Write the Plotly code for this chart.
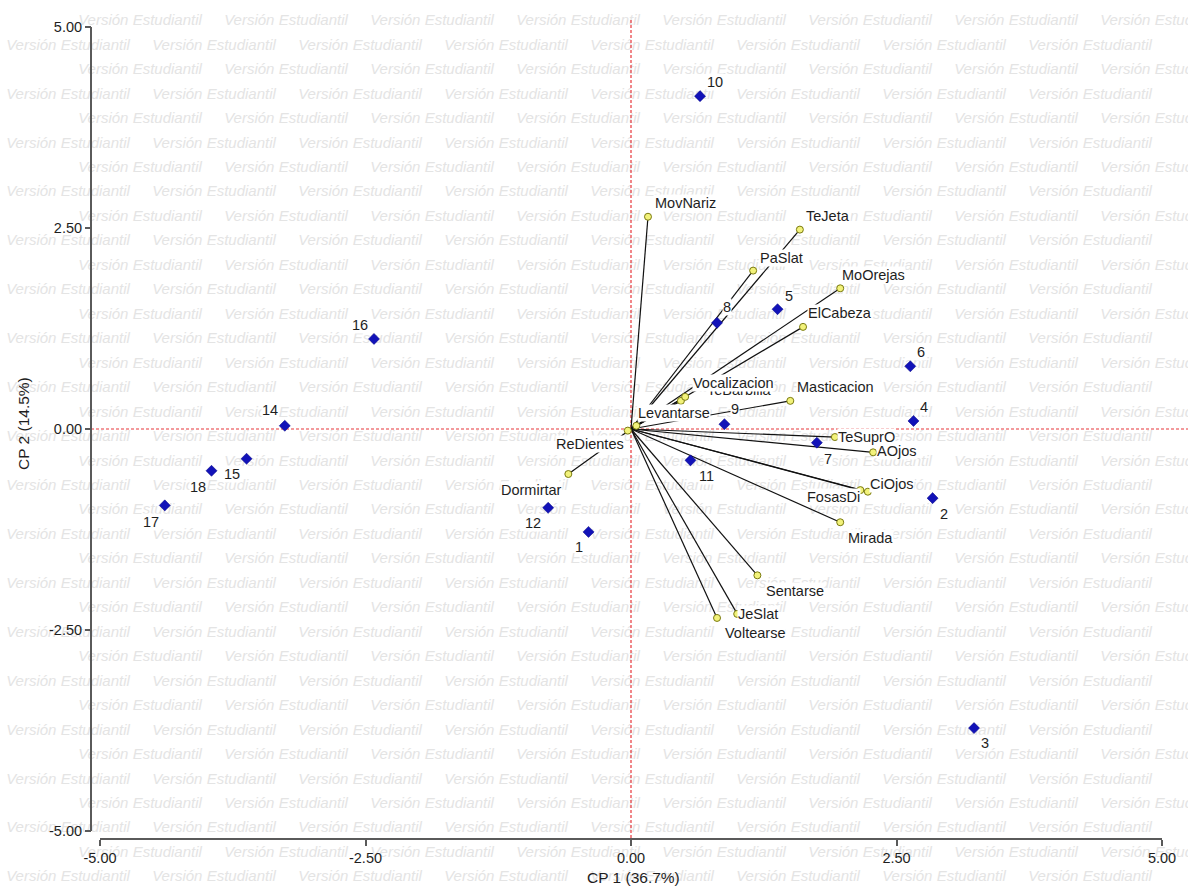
import plotly.graph_objects as go

# ---------------- data ----------------
obs_ids = ["1", "2", "3", "4", "5", "6", "7", "8", "9", "10", "11", "12",
           "14", "15", "16", "17", "18"]
obs_cp1 = [-0.40, 2.84, 3.23, 2.66, 1.38, 2.63, 1.75, 0.81, 0.88, 0.65, 0.56,
           -0.78, -3.26, -3.62, -2.42, -4.39, -3.95]
obs_cp2 = [-1.28, -0.86, -3.72, 0.10, 1.49, 0.78, -0.17, 1.32, 0.06, 4.14,
           -0.39, -0.98, 0.04, -0.37, 1.12, -0.95, -0.52]

var_names = ["MovNariz", "TeJeta", "PaSlat", "MoOrejas", "ElCabeza",
             "TeBarbilla", "Vocalizacion", "Masticacion", "Levantarse",
             "TeSuprO", "AOjos", "CiOjos", "FosasDi", "Mirada", "Sentarse",
             "JeSlat", "Voltearse", "ReDientes", "Dormirtar"]
var_cp1 = [0.16, 1.59, 1.15, 1.97, 1.62, 0.47, 0.51, 1.50, 0.05, 1.92, 2.28,
           2.23, 2.16, 1.97, 1.19, 1.00, 0.81, -0.59, -0.03]
var_cp2 = [2.64, 2.48, 1.97, 1.75, 1.27, 0.35, 0.40, 0.35, 0.04, -0.10, -0.29,
           -0.78, -0.76, -1.16, -1.82, -2.30, -2.35, -0.56, -0.02]

tick_vals = [-5.0, -2.5, 0.0, 2.5, 5.0]
tick_text = ["-5.00", "-2.50", "0.00", "2.50", "5.00"]
x_title = "CP 1 (36.7%)"
y_title = "CP 2 (14.5%)"
watermark = "Versión Estudiantil"

# ---------------- layout geometry (pixels) ----------------
W, H = 1188, 888
PX0, SX = 631.0, 106.2   # pixel of x=0, pixels per unit
PY0, SY = 429.0, 80.4    # pixel of y=0, pixels per unit
YAXIS_PX = 91            # x pixel of the y axis line
XAXIS_PX = 839           # y pixel of the x axis line


def dx(px):
    return (px - PX0) / SX


def dy(py):
    return (PY0 - py) / SY


x_range = [dx(0), dx(W)]
y_range = [dy(H), dy(0)]

# label offsets in pixels (right, down)
obs_off = {"1": (-10, 15), "2": (11, 16), "3": (11, 15), "4": (11, -14),
           "5": (11, -13), "6": (11, -14), "7": (11, 16), "8": (10, -16),
           "9": (11, -15), "10": (15, -14), "11": (16, 16), "12": (-15, 15),
           "14": (-15, -16), "15": (-15, 15), "16": (-14, -14),
           "17": (-14, 17), "18": (-14, 16)}
var_off = {"MovNariz": (38, -14), "TeJeta": (28, -14), "PaSlat": (28, -13),
           "MoOrejas": (33, -13), "ElCabeza": (37, -14),
           "TeBarbilla": (59, -11), "Vocalizacion": (48, -14),
           "Masticacion": (45, -14), "Levantarse": (38, -13),
           "TeSuprO": (32, 0), "AOjos": (24, -1), "CiOjos": (24, -8),
           "FosasDi": (-27, 7), "Mirada": (30, 16), "Sentarse": (38, 16),
           "JeSlat": (21, 0), "Voltearse": (38, 15), "ReDientes": (22, -30),
           "Dormirtar": (-96, 59)}

FONT = "Liberation Sans, Arial, sans-serif"
LBL_SIZE = 14.5
LBL_COLOR = "#1e1e1e"

fig = go.Figure()

# ---------------- watermark ----------------
wm_x, wm_y = [], []
ROW0, ROWSTEP, PERIOD = 21.5, 24.46, 146.0
for i in range(36):
    ypix = ROW0 + ROWSTEP * i
    start = 77.0 if i % 2 == 0 else 5.0
    for k in range(-1, 9):
        left = start + PERIOD * k
        wm_x.append(dx(left + 63))
        wm_y.append(dy(ypix))
fig.add_trace(go.Scatter(
    x=wm_x, y=wm_y, mode="text", text=[watermark] * len(wm_x),
    textposition="middle center",
    textfont=dict(family=FONT, size=15, color="#e4e4e4", style="italic"),
    hoverinfo="skip", showlegend=False, cliponaxis=False))

# ---------------- reference dashed lines ----------------
red = dict(color="#e8363a", width=1.2, dash="3px,2px")
fig.add_trace(go.Scatter(x=[dx(YAXIS_PX), x_range[1]], y=[0, 0], mode="lines",
                         line=red, hoverinfo="skip", showlegend=False))
fig.add_trace(go.Scatter(x=[0, 0], y=[dy(20), dy(XAXIS_PX)], mode="lines",
                         line=red, hoverinfo="skip", showlegend=False))

# ---------------- vectors ----------------
vx, vy = [], []
for a, b in zip(var_cp1, var_cp2):
    vx += [0, a, None]
    vy += [0, b, None]
fig.add_trace(go.Scatter(x=vx, y=vy, mode="lines",
                         line=dict(color="#111111", width=1.2),
                         hoverinfo="skip", showlegend=False))

fig.add_trace(go.Scatter(
    x=var_cp1, y=var_cp2, mode="markers", text=var_names,
    marker=dict(symbol="circle", size=7, color="#f2f27a",
                line=dict(color="#7a7a10", width=1)),
    showlegend=False))

fig.add_trace(go.Scatter(
    x=obs_cp1, y=obs_cp2, mode="markers", text=obs_ids,
    marker=dict(symbol="diamond", size=8.5, color="#1212b8",
                line=dict(color="#000080", width=0.5)),
    showlegend=False))

# ---------------- labels ----------------
annotations = []


def add_label(txt, x, y, off):
    annotations.append(dict(
        x=x, y=y, xref="x", yref="y", text=txt, showarrow=False,
        xshift=off[0], yshift=-off[1], xanchor="center", yanchor="middle",
        bgcolor="white", borderpad=0,
        font=dict(family=FONT, size=LBL_SIZE, color=LBL_COLOR)))


for n, a, b in zip(obs_ids, obs_cp1, obs_cp2):
    add_label(n, a, b, obs_off[n])
for n, a, b in zip(var_names, var_cp1, var_cp2):
    add_label(n, a, b, var_off[n])

annotations.append(dict(
    x=633 / W, y=1 - 877 / H, xref="paper", yref="paper", text=x_title,
    showarrow=False, xanchor="center", yanchor="middle",
    font=dict(family=FONT, size=15.5, color="#1e1e1e")))
annotations.append(dict(
    x=23 / W, y=1 - 424 / H, xref="paper", yref="paper", text=y_title,
    showarrow=False, xanchor="center", yanchor="middle", textangle=-90,
    font=dict(family=FONT, size=15.5, color="#1e1e1e")))

# ---------------- axis lines ----------------
axis_col = "#5a5a5a"
shapes = [
    dict(type="line", xref="x", yref="paper", x0=-5, x1=5,
         y0=1 - XAXIS_PX / H, y1=1 - XAXIS_PX / H,
         line=dict(color=axis_col, width=2), layer="above"),
    dict(type="line", xref="paper", yref="y", x0=YAXIS_PX / W,
         x1=YAXIS_PX / W, y0=-5, y1=5,
         line=dict(color=axis_col, width=2), layer="above"),
]

tickfont = dict(family=FONT, size=14.5, color="#1e1e1e")
fig.update_layout(
    width=W, height=H, margin=dict(l=0, r=0, t=0, b=0),
    paper_bgcolor="white", plot_bgcolor="white",
    xaxis=dict(range=x_range, domain=[0, 1], anchor="free",
               position=1 - XAXIS_PX / H, showgrid=False, zeroline=False,
               showline=False, tickvals=tick_vals, ticktext=tick_text,
               ticks="outside", ticklen=6, tickwidth=1.5, tickcolor=axis_col,
               tickfont=tickfont),
    yaxis=dict(range=y_range, domain=[0, 1], anchor="free",
               position=YAXIS_PX / W, showgrid=False, zeroline=False,
               showline=False, tickvals=tick_vals, ticktext=tick_text,
               ticks="outside", ticklen=6, tickwidth=1.5, tickcolor=axis_col,
               tickfont=tickfont),
    annotations=annotations, shapes=shapes, showlegend=False,
)

fig.write_html(
    "out.html",
    config={"displayModeBar": False},
    post_script="document.body.style.margin='0px';"
                "document.body.style.overflow='hidden';",
)
